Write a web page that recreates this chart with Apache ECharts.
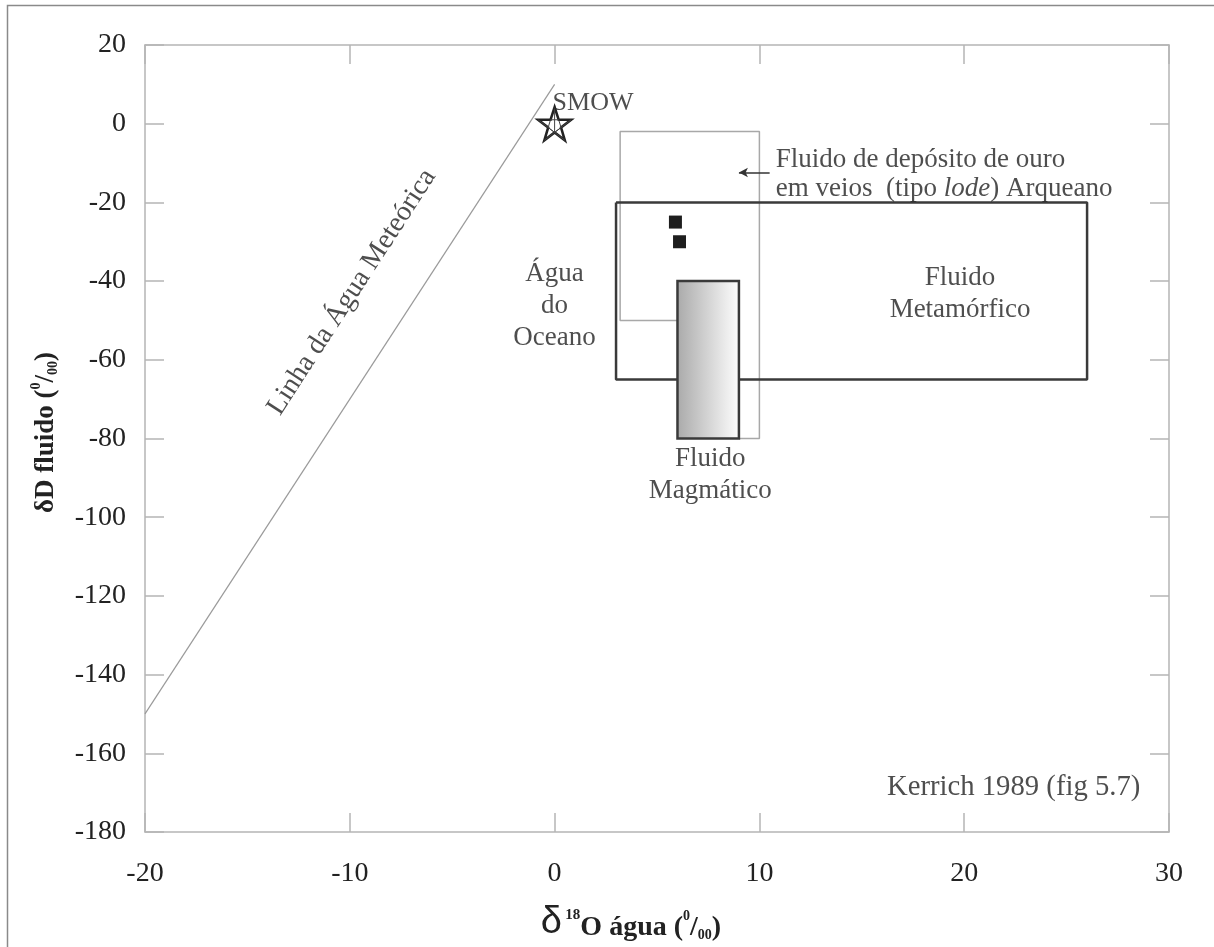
<!DOCTYPE html>
<html>
<head>
<meta charset="utf-8">
<script src="https://cdn.jsdelivr.net/npm/echarts@6/dist/echarts.min.js"></script>
<style>
  html, body { margin: 0; padding: 0; background: #fff; }
  #chart { width: 1214px; height: 947px; }
</style>
</head>
<body>
<div id="chart"></div>
<script>
// axis ranges
var xMin = -20, xMax = 30, xStep = 10;
var yMin = -180, yMax = 20, yStep = 20;

// linha da agua meteorica (dD = 8 d18O + 10)
var meteoricLine = [[-20, -150], [0, 10]];
// SMOW
var smow = [[0, 0]];
// fluido de deposito de ouro (caixa fina, parte escondida pelo magmatico)
var goldFluid = [[6, -50], [3.2, -50], [3.2, -2], [10, -2], [10, -80], [9, -80]];
// fluido metamorfico
var metaBox = [[3, -20], [26, -20], [26, -65], [3, -65], [3, -20]];
// fluido magmatico: [x1, x2, yTop, yBottom]
var magmaBox = [[6, 9, -40, -80]];
// amostras
var samples = [[5.9, -25], [6.1, -30]];
// seta
var arrowFrom = [10.5, -12.4], arrowTo = [9.0, -12.4];

// textos [x, y, texto]
var centerNotes = [
  [0, -46.4, 'Água\ndo\nOceano'],
  [19.8, -43.3, 'Fluido\nMetamórfico'],
  [7.6, -89.2, 'Fluido\nMagmático']
];
var meteoricNote = [[-9.9, -42.8, 'Linha da Água Meteórica']];
var goldNote = [[10.8, -12.9, 'Fluido de depósito de ouro\n{t|em veios  (tipo }{i|lode}{t|) Arqueano}']];
var smowNote = [[-0.1, 5.3, 'SMOW']];
var refNote = [[28.6, -168.6, 'Kerrich 1989 (fig 5.7)']];

var FONT = "'Liberation Serif', 'Times New Roman', serif";
var TXT = '#222';
var AXC = '#b5b5b5';

var starPath = 'path://M50,0 L61.8,34.5 L97.6,34.5 L68.6,55.9 L79.4,90.5 L50,69.1 L20.6,90.5 L31.4,55.9 L2.4,34.5 L38.2,34.5 Z';
var starInner = 'path://M50,0 L50,69.1 M97.6,34.5 L20.6,90.5 M79.4,90.5 L2.4,34.5 M61.8,34.5 L38.2,34.5 L31.4,55.9 L50,69.1 L68.6,55.9 Z';

function noteSeries(data, label) {
  return {
    type: 'scatter', data: data, symbolSize: 0, silent: true, z: 10,
    label: Object.assign({
      show: true, color: TXT, fontFamily: FONT, fontSize: 27,
      formatter: function (p) { return p.data[2]; }
    }, label)
  };
}

function axisBase(extra) {
  return Object.assign({
    type: 'value',
    axisLine: { show: true, onZero: false, lineStyle: { color: AXC, width: 1.5 } },
    axisTick: { show: true, inside: true, length: 19, lineStyle: { color: AXC, width: 1.5 } },
    splitLine: { show: false },
    axisLabel: { color: TXT, fontFamily: FONT, fontSize: 28 }
  }, extra);
}

var option = {
  backgroundColor: '#fff',
  animation: false,
  grid: { left: 145, right: 45, top: 45, bottom: 112 },
  graphic: [{
    type: 'rect', silent: true,
    shape: { x: 7.5, y: 5.5, width: 1300, height: 1000 },
    style: { fill: 'none', stroke: '#8a8a8a', lineWidth: 1.5 }
  }],
  xAxis: [
    axisBase({
      min: xMin, max: xMax, interval: xStep, position: 'bottom',
      axisLabel: { color: TXT, fontFamily: FONT, fontSize: 28, margin: 28 },
      name: '{d|δ} {s|18}{b|O água (}{p|0}{b|/}{q|00}{b|)}',
      nameLocation: 'middle', nameGap: 70,
      nameTextStyle: {
        padding: [0, 52, 0, 0],
        rich: {
          d: { fontFamily: "'Liberation Sans', Arial, sans-serif", fontSize: 38, color: TXT, verticalAlign: 'bottom', lineHeight: 40 },
          s: { fontFamily: FONT, fontSize: 15, fontWeight: 'bold', color: TXT, verticalAlign: 'top', lineHeight: 40, padding: [6, 0, 0, 0] },
          b: { fontFamily: FONT, fontSize: 28, fontWeight: 'bold', color: TXT, verticalAlign: 'bottom', lineHeight: 40 },
          p: { fontFamily: FONT, fontSize: 14, fontWeight: 'bold', color: TXT, verticalAlign: 'top', lineHeight: 40, padding: [7, 0, 0, 0] },
          q: { fontFamily: FONT, fontSize: 14, fontWeight: 'bold', color: TXT, verticalAlign: 'bottom', lineHeight: 40 }
        }
      }
    }),
    axisBase({
      min: xMin, max: xMax, interval: xStep, position: 'top',
      axisLabel: { show: false }
    })
  ],
  yAxis: [
    axisBase({
      min: yMin, max: yMax, interval: yStep, position: 'left',
      axisLabel: { color: TXT, fontFamily: FONT, fontSize: 28, margin: 19 },
      name: '{b|δD fluido (}{p|0}{b|/}{q|00}{b|)}',
      nameLocation: 'middle', nameRotate: 90, nameGap: 85,
      nameTextStyle: {
        padding: [0, 0, 0, 12],
        rich: {
          b: { fontFamily: FONT, fontSize: 27, fontWeight: 'bold', color: TXT, verticalAlign: 'bottom', lineHeight: 36 },
          p: { fontFamily: FONT, fontSize: 14, fontWeight: 'bold', color: TXT, verticalAlign: 'top', lineHeight: 36, padding: [5, 0, 0, 0] },
          q: { fontFamily: FONT, fontSize: 14, fontWeight: 'bold', color: TXT, verticalAlign: 'bottom', lineHeight: 36 }
        }
      }
    }),
    axisBase({
      min: yMin, max: yMax, interval: yStep, position: 'right',
      axisLabel: { show: false }
    })
  ],
  series: [
    {
      name: 'meteoric', type: 'line', data: meteoricLine, showSymbol: false, silent: true,
      lineStyle: { color: '#9a9a9a', width: 1.2 }
    },
    {
      name: 'gold', type: 'line', data: goldFluid, showSymbol: false, silent: true, z: 2,
      lineStyle: { color: '#a8a8a8', width: 1.5 }
    },
    {
      name: 'meta', type: 'line', data: metaBox, showSymbol: false, silent: true, z: 3,
      lineStyle: { color: '#3a3a3a', width: 2.5 }
    },
    {
      name: 'magma', type: 'custom', data: magmaBox, silent: true, z: 4,
      renderItem: function (params, api) {
        var p1 = api.coord([api.value(0), api.value(2)]);
        var p2 = api.coord([api.value(1), api.value(3)]);
        return {
          type: 'rect',
          shape: { x: p1[0], y: p1[1], width: p2[0] - p1[0], height: p2[1] - p1[1] },
          style: {
            fill: new echarts.graphic.LinearGradient(0, 0, 1, 0, [
              { offset: 0, color: '#a9a9a9' },
              { offset: 1, color: '#ffffff' }
            ]),
            stroke: '#3a3a3a', lineWidth: 2.5
          }
        };
      }
    },
    {
      name: 'samples', type: 'scatter', data: samples, symbol: 'rect', symbolSize: 13, silent: true, z: 5,
      itemStyle: { color: '#1e1e1e', opacity: 1 }
    },
    {
      name: 'smow', type: 'scatter', data: smow, symbol: starPath, symbolSize: 33, silent: true, z: 6,
      itemStyle: { color: '#fff', borderColor: '#222', borderWidth: 2.6, opacity: 1 }
    },
    {
      name: 'smowInner', type: 'scatter', data: smow, symbol: starInner, symbolSize: 33, silent: true, z: 7,
      itemStyle: { color: 'rgba(0,0,0,0)', borderColor: '#444', borderWidth: 1, opacity: 1 }
    },
    {
      name: 'arrow', type: 'line', data: [], silent: true,
      markLine: {
        silent: true, symbol: ['none', 'arrow'], symbolSize: [7, 9],
        lineStyle: { color: '#333', width: 1.5, type: 'solid' },
        label: { show: false },
        data: [[{ coord: arrowFrom }, { coord: arrowTo }]]
      }
    },
    noteSeries(centerNotes, { position: 'inside', align: 'center', lineHeight: 32 }),
    noteSeries(meteoricNote, { position: 'inside', align: 'center', rotate: 57, fontSize: 28 }),
    noteSeries(goldNote, {
      position: 'right', distance: 0, lineHeight: 29, fontSize: 27,
      rich: {
        t: { fontFamily: FONT, fontSize: 27, color: TXT, lineHeight: 29 },
        i: { fontFamily: FONT, fontSize: 27, color: TXT, fontStyle: 'italic', lineHeight: 29 }
      }
    }),
    noteSeries(smowNote, { position: 'right', distance: 0, fontSize: 26 }),
    noteSeries(refNote, { position: 'left', distance: 0, fontSize: 28.7 })
  ]
};

var chart = echarts.init(document.getElementById('chart'));
chart.setOption(option);
</script>
</body>
</html>
